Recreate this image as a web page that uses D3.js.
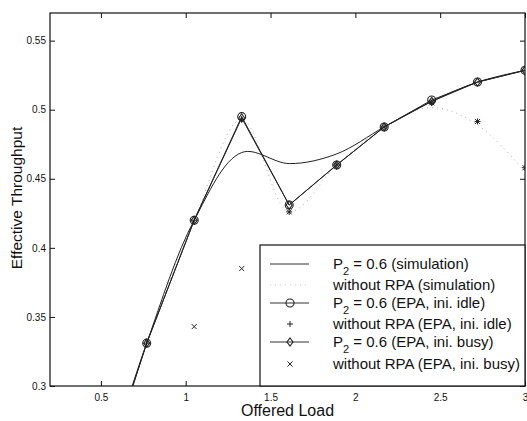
<!DOCTYPE html>
<html>
<head>
<meta charset="utf-8">
<script src="https://cdn.jsdelivr.net/npm/d3@7"></script>
<style>
  body { margin: 0; background: #fff; }
  svg { display: block; font-family: "Liberation Sans", Arial, sans-serif; }
</style>
</head>
<body>
<svg id="chart" width="527" height="421"></svg>
<script>
// offered load at which every series was evaluated
var load = [0.21, 0.49, 0.77, 1.05, 1.33, 1.61, 1.89, 2.17, 2.45, 2.72, 3.0];

// effective throughput (values under 0.3 are clipped anyway)
var simP2 = [0.12, 0.225, 0.331, 0.42, 0.469, 0.461, 0.468, 0.4875, 0.506, 0.520, 0.5285];
var simNoRpa = [0.12, 0.225, 0.331, 0.42, 0.493, 0.426, 0.46, 0.4875, 0.5015, 0.489, 0.455];
var epaIdleP2 = [0.12, 0.225, 0.331, 0.42, 0.495, 0.431, 0.46, 0.4875, 0.507, 0.520, 0.5285];
var epaIdleNoRpa = [0.12, 0.225, 0.331, 0.42, 0.493, 0.426, 0.46, 0.4875, 0.505, 0.4915, 0.458];
var epaBusyP2 = [0.12, 0.225, 0.331, 0.42, 0.494, 0.431, 0.46, 0.4875, 0.506, 0.520, 0.5285];
var epaBusyNoRpa = [0.1, 0.2, 0.28, 0.343, 0.385, 0.426, 0.46, 0.4875, 0.505, 0.4915, 0.458];

var xTicks = [0.5, 1, 1.5, 2, 2.5, 3];
var yTicks = [0.3, 0.35, 0.4, 0.45, 0.5, 0.55];

var legendRows = [
  { pre: "P", sub: "2", post: " = 0.6 (simulation)", line: "solid", mark: null },
  { pre: "without RPA (simulation)", sub: null, post: "", line: "dotted", mark: null },
  { pre: "P", sub: "2", post: " = 0.6 (EPA, ini. idle)", line: "solid", mark: "circle" },
  { pre: "without RPA (EPA, ini. idle)", sub: null, post: "", line: null, mark: "plus" },
  { pre: "P", sub: "2", post: " = 0.6 (EPA, ini. busy)", line: "solid", mark: "diamond" },
  { pre: "without RPA (EPA, ini. busy)", sub: null, post: "", line: null, mark: "cross" }
];
var legendY = [264, 285, 303, 324, 342, 364];

var L = 50, R = 525, T = 13, B = 386;
var svg = d3.select("#chart");
var x = d3.scaleLinear().domain([0.2, 3]).range([L, R]);
var y = d3.scaleLinear().domain([0.3, 0.57]).range([B, T]);

svg.append("defs").append("clipPath").attr("id", "plot")
  .append("rect").attr("x", L).attr("y", T).attr("width", R - L).attr("height", B - T);

// axes with inward ticks on all four sides
var fmt = function (d) { return String(d); };
var ax = svg.append("g").attr("font-size", 10);
ax.append("g").attr("transform", "translate(0," + B + ")")
  .call(d3.axisBottom(x).tickValues(xTicks).tickFormat(fmt).tickSize(-5).tickPadding(8));
ax.append("g").attr("transform", "translate(0," + T + ")")
  .call(d3.axisTop(x).tickValues(xTicks).tickFormat("").tickSize(-5));
ax.append("g").attr("transform", "translate(" + L + ",0)")
  .call(d3.axisLeft(y).tickValues(yTicks).tickFormat(fmt).tickSize(-5).tickPadding(4));
ax.append("g").attr("transform", "translate(" + R + ",0)")
  .call(d3.axisRight(y).tickValues(yTicks).tickFormat("").tickSize(-5));
ax.selectAll(".domain").remove();
ax.selectAll("text").attr("fill", "#111").attr("font-family", "Liberation Sans, Arial, sans-serif");
ax.selectAll(".tick line").attr("stroke", "#111");

svg.append("rect").attr("x", L).attr("y", T).attr("width", R - L).attr("height", B - T)
  .attr("fill", "none").attr("stroke", "#111").attr("stroke-width", 1.2);

var plot = svg.append("g").attr("clip-path", "url(#plot)");

function series(vals) { return load.map(function (d, i) { return [d, vals[i]]; }); }
var straight = d3.line().x(function (d) { return x(d[0]); }).y(function (d) { return y(d[1]); });
var smooth = d3.line().curve(d3.curveCatmullRom.alpha(0.5))
  .x(function (d) { return x(d[0]); }).y(function (d) { return y(d[1]); });
var mono = d3.line().curve(d3.curveMonotoneX)
  .x(function (d) { return x(d[0]); }).y(function (d) { return y(d[1]); });

plot.append("path").attr("d", mono(series(simNoRpa)))
  .attr("fill", "none").attr("stroke", "#aaa").attr("stroke-width", 1).attr("stroke-dasharray", "1,4");
plot.append("path").attr("d", smooth(series(simP2)))
  .attr("fill", "none").attr("stroke", "#222").attr("stroke-width", 1);
plot.append("path").attr("d", straight(series(epaIdleP2)))
  .attr("fill", "none").attr("stroke", "#222").attr("stroke-width", 1);
plot.append("path").attr("d", straight(series(epaBusyP2)))
  .attr("fill", "none").attr("stroke", "#222").attr("stroke-width", 1);

function marker(g, kind, cx, cy) {
  if (kind === "circle") {
    g.append("circle").attr("cx", cx).attr("cy", cy).attr("r", 4)
      .attr("fill", "none").attr("stroke", "#222").attr("stroke-width", 1.1);
  } else if (kind === "diamond") {
    g.append("path").attr("d", "M" + cx + "," + (cy - 4) + "L" + (cx + 3) + "," + cy +
      "L" + cx + "," + (cy + 4) + "L" + (cx - 3) + "," + cy + "Z")
      .attr("fill", "none").attr("stroke", "#222").attr("stroke-width", 1.1);
  } else if (kind === "plus") {
    g.append("path").attr("d", "M" + (cx - 3) + "," + cy + "H" + (cx + 3) + "M" + cx + "," + (cy - 3) + "V" + (cy + 3))
      .attr("stroke", "#222").attr("stroke-width", 1);
  } else if (kind === "cross") {
    g.append("path").attr("d", "M" + (cx - 2.5) + "," + (cy - 2.5) + "L" + (cx + 2.5) + "," + (cy + 2.5) +
      "M" + (cx - 2.5) + "," + (cy + 2.5) + "L" + (cx + 2.5) + "," + (cy - 2.5))
      .attr("stroke", "#222").attr("stroke-width", 1);
  }
}

[[epaIdleP2, "circle"], [epaBusyP2, "diamond"], [epaIdleNoRpa, "plus"], [epaBusyNoRpa, "cross"]]
  .forEach(function (s) {
    series(s[0]).forEach(function (d) {
      if (d[1] < 0.3) return;
      marker(plot, s[1], x(d[0]), y(d[1]));
    });
  });

// legend
var lg = svg.append("g");
lg.append("rect").attr("x", 260).attr("y", 245).attr("width", 265).attr("height", 141)
  .attr("fill", "#fff").attr("stroke", "#111").attr("stroke-width", 1.2);
legendRows.forEach(function (r, i) {
  var cy = legendY[i];
  if (r.line) {
    lg.append("line").attr("x1", 270).attr("x2", 309).attr("y1", cy).attr("y2", cy)
      .attr("stroke", r.line === "dotted" ? "#ccc" : "#333").attr("stroke-width", 1)
      .attr("stroke-dasharray", r.line === "dotted" ? "1,4" : null);
  }
  if (r.mark) marker(lg, r.mark, 290, cy);
  var t = lg.append("text").attr("x", 333).attr("y", cy + 5).attr("font-size", 15).attr("fill", "#111");
  t.append("tspan").text(r.pre);
  if (r.sub) {
    t.append("tspan").attr("font-size", 11).attr("dy", 6).text(r.sub);
    t.append("tspan").attr("dy", -6).text(r.post);
  }
});

// axis titles
svg.append("text").attr("x", (L + R) / 2).attr("y", 416).attr("text-anchor", "middle")
  .attr("font-size", 16).attr("fill", "#111").text("Offered Load");
svg.append("text").attr("transform", "translate(22,198) rotate(-90)").attr("text-anchor", "middle")
  .attr("font-size", 15.5).attr("fill", "#111").text("Effective Throughput");
</script>
</body>
</html>
